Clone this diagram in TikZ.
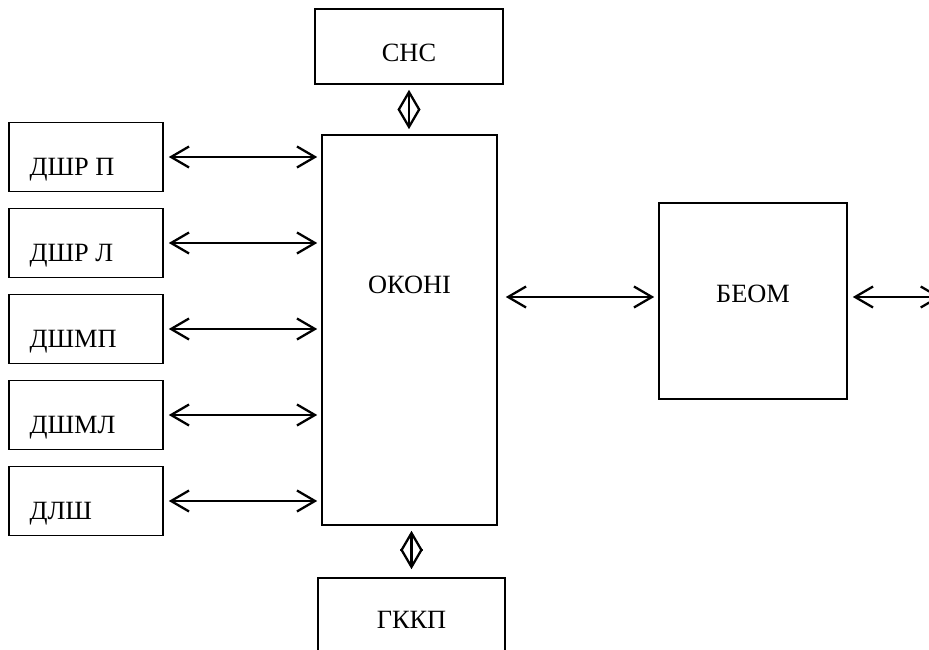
\documentclass[tikz,border=0pt]{standalone}
\usepackage{fontspec}
\setmainfont{Liberation Serif}
\usetikzlibrary{arrows.meta}
\tikzset{
	blk/.style={draw, line width=0.9pt, inner sep=0pt},
	lbl/.style={font=\fontsize{15}{18}\selectfont, inner sep=0pt},
	link/.style={{Straight Barb[length=0.36cm,width=0.42cm]}-{Straight Barb[length=0.36cm,width=0.42cm]}, line width=1.3pt}
}
\begin{document}
\begin{tikzpicture}
	\useasboundingbox (0,0) rectangle (18.58,-13);
	
	% central block and its neighbours
	\node[blk, minimum width=3.5cm, minimum height=7.8cm] (okoni) at (8.19,-6.6) {};
	\node[lbl] (okoni-t) at ([yshift=0.9cm]okoni.center) {ОКОНІ};
	\node[blk, minimum width=3.76cm, minimum height=1.5cm] (snc) at (8.18,-0.93) {};
	\node[lbl] (snc-t) at ([yshift=-0.12cm]snc.center) {СНС};
	\node[blk, minimum width=3.74cm, minimum height=1.5cm] (gkkp) at (8.23,-12.31) {};
	\node[lbl] (gkkp-t) at ([yshift=-0.86cm]gkkp.north) {ГККП};
	\node[blk, minimum width=3.76cm, minimum height=3.92cm] (beom) at (15.06,-6.02) {};
	\node[lbl] (beom-t) at ([yshift=0.14cm]beom.center) {БЕОМ};
	\coordinate (out) at (18.82,-5.94);
	
	% sensors on the left
	\foreach \n/\t/\y in {dshrp/ДШР П/-3.14, dshrl/ДШР Л/-4.86, dshmp/ДШМП/-6.58, dshml/ДШМЛ/-8.30, dlsh/ДЛШ/-10.02}{
		\node[blk, minimum width=3.08cm, minimum height=1.38cm] (\n) at (1.72,\y) {};
		\node[lbl, anchor=base west] (\n-t) at ([xshift=0.42cm,yshift=0.33cm]\n.south west) {\t};
		\draw[link, shorten <=0.1cm, shorten >=0.08cm] (\n.east) -- (\n.east -| okoni.west);
	}
	
	\draw[link, shorten <=0.1cm, shorten >=0.1cm] (snc.south) -- (snc.south |- okoni.north);
	\draw[link, shorten <=0.1cm, shorten >=0.16cm] (okoni.south -| gkkp.north) -- (gkkp.north);
	\draw[link, shorten <=0.16cm, shorten >=0.08cm] ([yshift=0.08cm]beom.west -| okoni.east) -- ([yshift=0.08cm]beom.west);
	\draw[link, shorten <=0.1cm] (out -| beom.east) -- (out);
\end{tikzpicture}
\end{document}
